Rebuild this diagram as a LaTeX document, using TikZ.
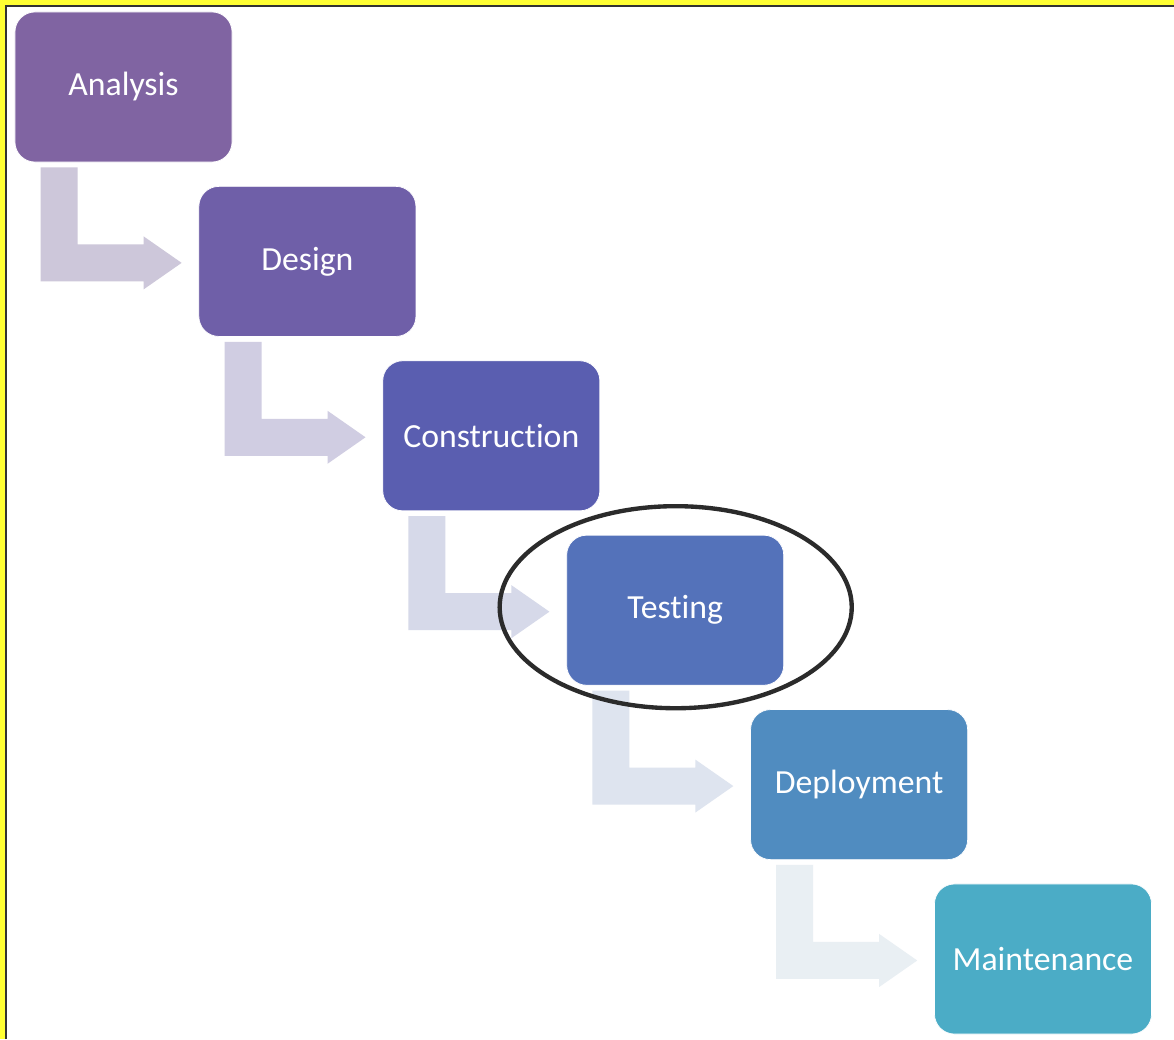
\documentclass[tikz,border=0pt]{standalone}
\usepackage{fontspec}
\setmainfont[Ligatures={NoCommon,NoContextual}]{Carlito}
\usetikzlibrary{calc}

\definecolor{cAna}{HTML}{8064A2}
\definecolor{cDes}{HTML}{6F5FA8}
\definecolor{cCon}{HTML}{5A5EB0}
\definecolor{cTes}{HTML}{5472BA}
\definecolor{cDep}{HTML}{508CC0}
\definecolor{cMai}{HTML}{4BACC6}
\definecolor{aOne}{HTML}{CDC7DA}
\definecolor{aTwo}{HTML}{D0CDE2}
\definecolor{aThree}{HTML}{D6D9E9}
\definecolor{aFour}{HTML}{DEE4EF}
\definecolor{aFive}{HTML}{E9EFF3}
\definecolor{frameyel}{HTML}{FFFF33}

\begin{document}
\begin{tikzpicture}
[%%%%%%%%%%%%%%%%%%%%%%%%%%%%%%
x=0.025cm,y=-0.025cm,
stage/.style={rectangle,rounded corners=0.5cm,draw=white,line width=0.5pt,
  minimum width=5.425cm,minimum height=3.75cm,text=white,
  font=\fontsize{24}{29}\selectfont},
ring/.style={draw=black!83,line width=3.1pt},
]%%%%%%%%%%%%%%%%%%%%%%%%%%%%%%
\useasboundingbox (0,0) rectangle (1174,1039);
\fill[white] (0,0) rectangle (1174,1039);

% frame
\fill[frameyel] (0,0) rectangle (1174,5);
\fill[frameyel] (0,0) rectangle (5,1039);
\draw[black!80,line width=1.4pt] (6,1039) -- (6,6) -- (1174,6);

% stages
\foreach \name/\txt/\col [count=\i from 0] in {ana/Analysis/cAna,des/Design/cDes,
  con/Construction/cCon,tes/Testing/cTes,dep/Deployment/cDep,mai/Maintenance/cMai}
\node[stage,fill=\col] (\name) at ({123.5+183.9*\i},{87+174.4*\i}) {\txt};

% bent arrows
\foreach \a/\col in {ana/aOne,des/aTwo,con/aThree,tes/aFour,dep/aFive}
\fill[\col] ($(\a.south west)+(26,5)$) -- ($(\a.south west)+(63,5)$)
  -- ($(\a.south west)+(63,82)$) -- ($(\a.south west)+(129,82)$)
  -- ($(\a.south west)+(129,74)$) -- ($(\a.south west)+(167,100.5)$)
  -- ($(\a.south west)+(129,127)$) -- ($(\a.south west)+(129,119)$)
  -- ($(\a.south west)+(26,119)$) -- cycle;

% highlight
\draw[ring] ($(tes.center)+(0.5,-3)$) ellipse [x radius=4.4cm,y radius=2.525cm];
\end{tikzpicture}
\end{document}
